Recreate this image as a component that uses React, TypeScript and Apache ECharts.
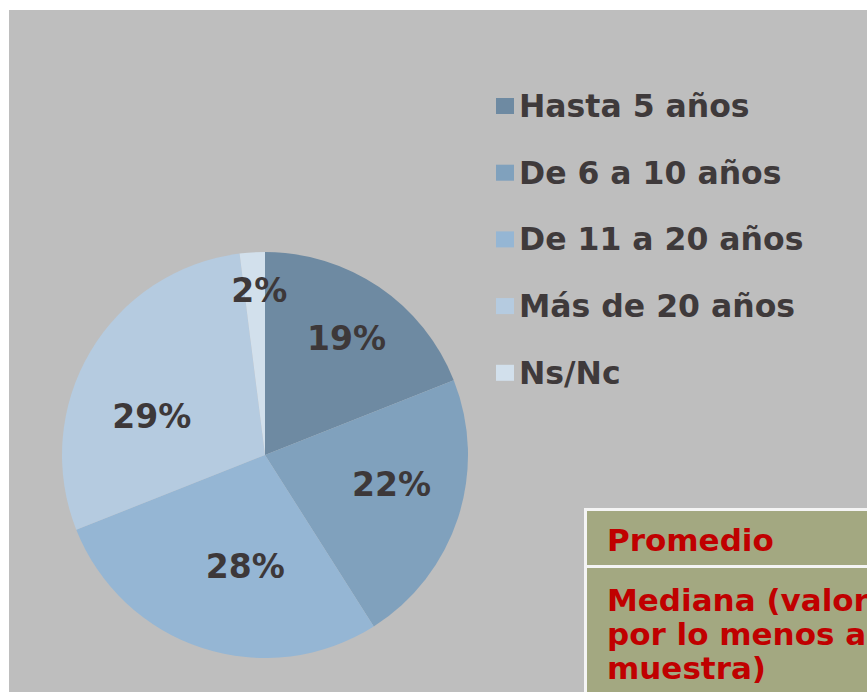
import React, { useEffect, useRef } from "react";
import * as echarts from "echarts";

const categories = ["Hasta 5 años", "De 6 a 10 años", "De 11 a 20 años", "Más de 20 años", "Ns/Nc"];
const values = [19, 22, 28, 29, 2];
const sliceColors = ["#6e8aa2", "#80a1bd", "#95b6d4", "#b5cbe0", "#d2e0ec"];
// label placement: [fraction of radius, angle in degrees clockwise from top]
const labelPolar: [number, number][] = [
  [0.7, 35],
  [0.64, 103],
  [0.56, 190],
  [0.59, 289],
  [0.81, 358],
];
const tableRows = [["Promedio"], ["Mediana (valor", "por lo menos a", "muestra)"]];

const CX = 265;
const CY = 455;
const R = 203;

export default function App() {
  const ref = useRef<HTMLDivElement>(null);
  useEffect(() => {
    document.body.style.margin = "0";
    if (!ref.current) return;
    const chart = echarts.init(ref.current, undefined, { renderer: "svg" });
    const font = "'DejaVu Sans', Verdana, sans-serif";
    const graphics: any[] = [
      { type: "rect", z: -10, shape: { x: 9, y: 10, width: 858, height: 682 }, style: { fill: "#bebebe" } },
      { type: "rect", z: 1, shape: { x: 584, y: 508, width: 290, height: 190 }, style: { fill: "#f4f4f4" } },
      { type: "rect", z: 2, shape: { x: 587, y: 511, width: 290, height: 54 }, style: { fill: "#a3a881" } },
      { type: "rect", z: 2, shape: { x: 587, y: 568, width: 290, height: 130 }, style: { fill: "#a3a881" } },
      {
        type: "text", z: 3, x: 607, y: 540,
        style: { text: tableRows[0][0], fill: "#c00000", font: `bold 31px ${font}`, verticalAlign: "middle" },
      },
      ...tableRows[1].map((t, i) => ({
        type: "text", z: 3, x: 607, y: 600 + i * 34,
        style: { text: t, fill: "#c00000", font: `bold 31px ${font}`, verticalAlign: "middle" },
      })),
    ];
    chart.setOption({
      animation: false,
      backgroundColor: "#ffffff",
      color: sliceColors,
      graphic: graphics,
      legend: {
        orient: "vertical",
        left: 491,
        top: 85,
        icon: "rect",
        itemWidth: 18,
        itemHeight: 16,
        itemGap: 34.7,
        data: categories,
        textStyle: { fontFamily: font, fontWeight: "bold", fontSize: 31.5, lineHeight: 30, color: "#3f3a3b" },
      },
      series: [
        {
          type: "pie",
          center: [CX, CY],
          radius: R,
          startAngle: 90,
          clockwise: true,
          data: categories.map((c, i) => ({ name: c, value: values[i] })),
          label: {
            show: true,
            position: "inside",
            formatter: "{c}%",
            fontFamily: font,
            fontWeight: "bold",
            fontSize: 33,
            color: "#3d3839",
          },
          labelLine: { show: false },
          itemStyle: { borderWidth: 0 },
          labelLayout: (p: any) => {
            const [f, a] = labelPolar[p.dataIndex];
            const rad = (a * Math.PI) / 180;
            return { x: CX + Math.sin(rad) * f * R, y: CY - Math.cos(rad) * f * R, align: "center", verticalAlign: "middle" };
          },
        },
      ],
    });
    return () => chart.dispose();
  }, []);
  return <div ref={ref} style={{ width: 867, height: 692 }} />;
}
